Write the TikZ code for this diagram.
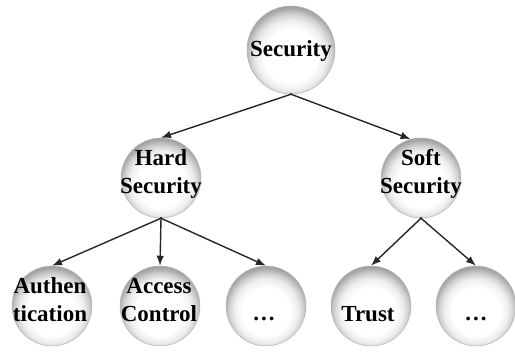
\documentclass[tikz,border=0pt]{standalone}
\usepackage{fontspec}
\setmainfont{Liberation Serif}
\usetikzlibrary{arrows.meta}
\pgfdeclareradialshading{sphere}{\pgfpoint{0bp}{-5bp}}{%
  color(0bp)=(white); color(15bp)=(white); color(20bp)=(black!7);
  color(23bp)=(black!18); color(26bp)=(black!34); color(30bp)=(black!46); color(50bp)=(black!46)}
\tikzset{
  ball/.style={circle, minimum size=80pt, inner sep=0pt, shading=sphere, draw=black!28, line width=0.5pt},
  bigball/.style={ball, minimum size=88pt},
  lbl/.style={font=\fontsize{23}{28}\selectfont\bfseries, text=black, align=center, inner sep=0pt},
  arr/.style={-{Latex[length=10pt,width=7.5pt]}, line width=1.4pt, draw=black!85, shorten <=-1pt}
}
\begin{document}
\begin{tikzpicture}[x=1pt,y=-1pt]
\useasboundingbox (0,0) rectangle (515,352);
% circles
\node[bigball] (sec) at (291,50) {};
\node[ball] (hard) at (161,178) {};
\node[ball] (soft) at (421,178) {};
\node[ball] (auth) at (52,306) {};
\node[ball] (acc) at (160,306) {};
\node[ball] (hd) at (266,306) {};
\node[ball] (trust) at (371,306) {};
\node[ball] (sd) at (476,306) {};
% labels
\node[lbl] (tsec) at (291,51) {Security};
\node[lbl] (thard) at (161,174) {Hard\\Security};
\node[lbl] (tsoft) at (421,174) {Soft\\Security};
\node[lbl] (tauth) at (50,300) {Authen\\tication};
\node[lbl] (tacc) at (159,300) {Access\\Control};
\node[lbl] (thd) at (264,319) {.\kern2pt.\kern2pt.};
\node[lbl] (ttrust) at (368,314) {Trust};
\node[lbl] (tsd) at (476,319) {.\kern2pt.\kern2pt.};
% connectors
\draw[arr] (sec.south) -- (hard.north);
\draw[arr] (sec.south) -- (soft.105);
\draw[arr] (hard.south) -- (auth.north);
\draw[arr] (hard.south) -- (acc.north);
\draw[arr] (hard.south) -- (hd.north);
\draw[arr] (soft.south) -- (trust.north);
\draw[arr] (soft.south) -- (sd.north);
\end{tikzpicture}
\end{document}
